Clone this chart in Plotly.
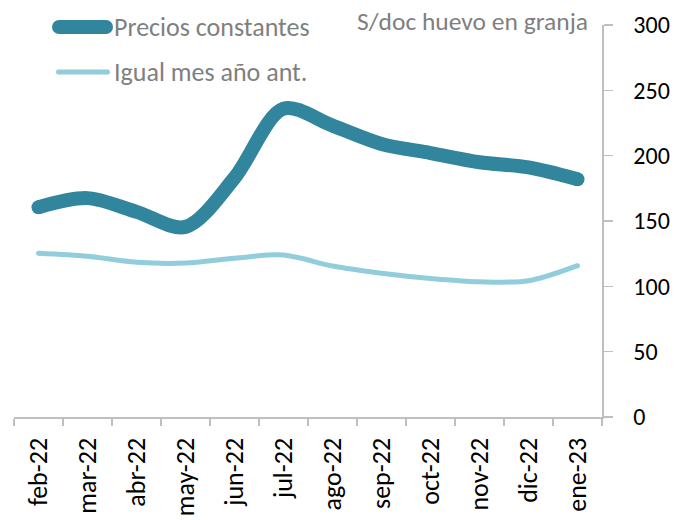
import plotly.graph_objects as go

# Monthly egg price at farm gate (S/ per dozen)
months = ["feb-22", "mar-22", "abr-22", "may-22", "jun-22", "jul-22",
          "ago-22", "sep-22", "oct-22", "nov-22", "dic-22", "ene-23"]
precios_constantes = [160.5, 167.5, 157, 145.5, 183, 236, 223, 209, 202, 195, 191, 182]
igual_mes_ano_ant = [125.3, 123, 118.4, 117.8, 121.5, 124, 115.5, 110, 106, 103.5, 104.3, 115.8]

series_names = ["Precios constantes", "Igual mes año ant."]
unit_label = "S/doc huevo en granja"
y_ticks = [0, 50, 100, 150, 200, 250, 300]

DARK = "#31859C"
LIGHT = "#92CDDC"
AXIS = "#BFBFBF"
GREY_TXT = "#7F7F7F"
FONT = "Carlito, Lato, sans-serif"

W, H = 680, 520
ML, MR, MT, MB = 14, 78, 25, 103
PW, PH = W - ML - MR, H - MT - MB

fig = go.Figure()


def add_series(values, color, width):
    fig.add_trace(go.Scatter(
        x=months, y=values, mode="lines",
        line=dict(color=color, width=width, shape="spline", smoothing=0.9),
        hoverinfo="skip", showlegend=False,
    ))
    # round caps at both ends of the line
    fig.add_trace(go.Scatter(
        x=[months[0], months[-1]], y=[values[0], values[-1]], mode="markers",
        marker=dict(color=color, size=width, line=dict(width=0)),
        hoverinfo="skip", showlegend=False,
    ))


add_series(igual_mes_ano_ant, LIGHT, 5)
add_series(precios_constantes, DARK, 14)


def px_x(p):
    return (p - ML) / PW


def px_y(p):
    return 1 - (p - MT) / PH


shapes = []
annotations = []


def legend_entry(label, color, width, x_left, x_right, y_px):
    r = width / 2
    dy = MT - y_px  # pixel offset from top of plot area (upwards positive)
    common = dict(xref="paper", yref="paper", xsizemode="pixel", ysizemode="pixel",
                  xanchor=0, yanchor=1)
    shapes.append(dict(type="line", x0=x_left + r - ML, x1=x_right - r - ML,
                       y0=dy, y1=dy, line=dict(color=color, width=width), **common))
    for cx in (x_left + r, x_right - r):
        shapes.append(dict(type="circle", x0=cx - r - ML, x1=cx + r - ML,
                           y0=dy - r, y1=dy + r, fillcolor=color,
                           line=dict(width=0), **common))
    annotations.append(dict(text=label, xref="paper", yref="paper",
                            x=px_x(112), y=px_y(y_px), xanchor="left", yanchor="middle",
                            showarrow=False, font=dict(family=FONT, size=26, color=GREY_TXT)))


legend_entry(series_names[0], DARK, 14, 52, 113, 27)
legend_entry(series_names[1], LIGHT, 5, 56, 110, 72)

annotations.append(dict(text=unit_label, xref="paper", yref="paper",
                        x=px_x(590), y=px_y(22), xanchor="right", yanchor="middle",
                        showarrow=False, font=dict(family=FONT, size=25.5, color=GREY_TXT)))

fig.update_layout(
    width=W, height=H,
    margin=dict(l=ML, r=MR, t=MT, b=MB, pad=0, autoexpand=False),
    paper_bgcolor="white", plot_bgcolor="white",
    showlegend=False, hovermode=False,
    shapes=shapes, annotations=annotations,
    xaxis=dict(
        type="category", range=[-0.5, len(months) - 0.5], automargin=False,
        tickson="boundaries", ticks="outside", ticklen=7, tickwidth=1.5, tickcolor=AXIS,
        showline=True, linecolor=AXIS, linewidth=1.5, showgrid=False, zeroline=False,
        tickangle=-90, ticklabelstandoff=9,
        tickfont=dict(family=FONT, size=26, color="#000000"),
    ),
    yaxis=dict(
        side="right", range=[0, 300], tickvals=y_ticks, automargin=False,
        ticks="outside", ticklen=9, tickwidth=1.5, tickcolor=AXIS,
        showline=True, linecolor=AXIS, linewidth=1.5, showgrid=False, zeroline=False,
        ticklabelstandoff=16,
        tickfont=dict(family=FONT, size=24, color="#000000"),
    ),
)

fig.write_html("out.html", config={"displayModeBar": False, "staticPlot": True})
